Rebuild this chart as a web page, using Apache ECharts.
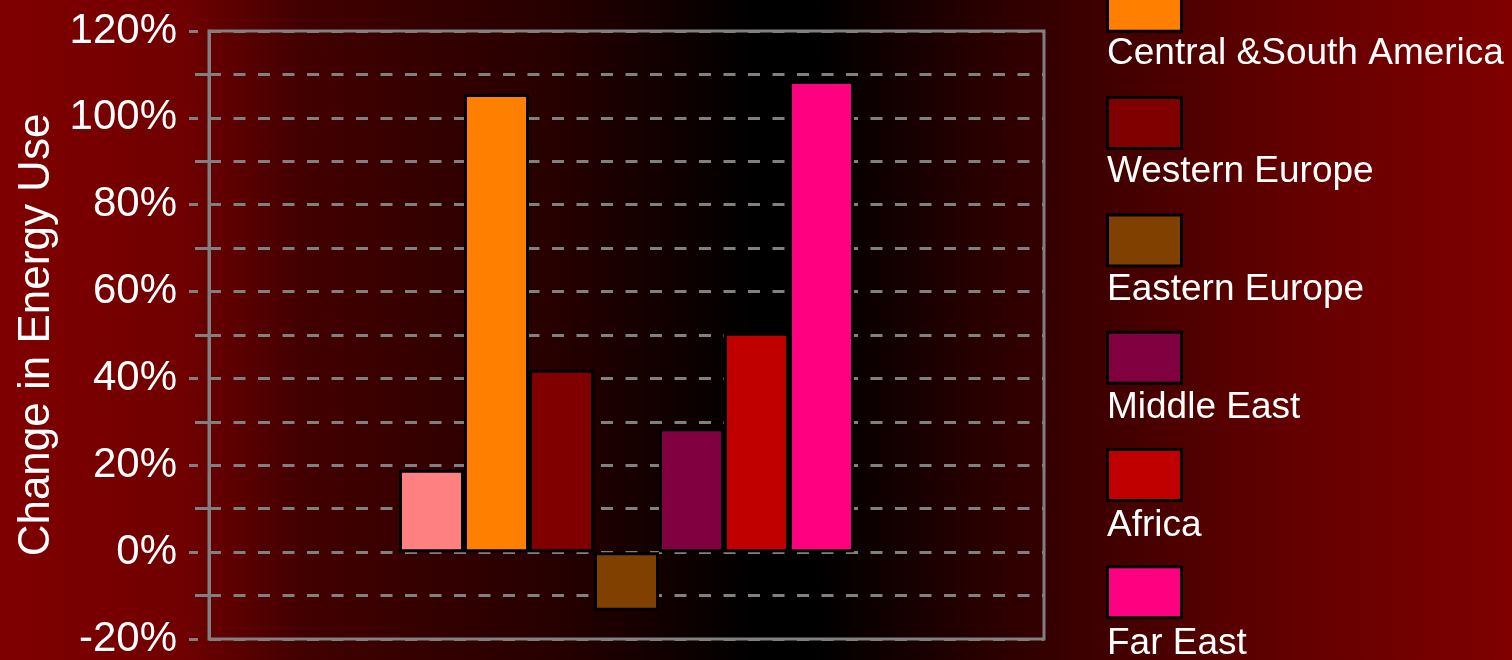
<!DOCTYPE html>
<html>
<head>
<meta charset="utf-8">
<script src="https://cdn.jsdelivr.net/npm/echarts@6/dist/echarts.min.js"></script>
<style>
  html, body { margin: 0; padding: 0; background: #000; }
  #main { width: 1512px; height: 660px; }
</style>
</head>
<body>
<div id="main"></div>
<script>
    // regions / energy use change (%)
    var regions = ['North America', 'Central &South America', 'Western Europe', 'Eastern Europe', 'Middle East', 'Africa', 'Far East']
    var changes = [19, 105.5, 42, -13.5, 28.5, 50.5, 108.5]
    var colors = ['#ff8080', '#ff8000', '#800000', '#804000', '#800040', '#c00000', '#ff0080']
    var categories = ['']

    var myChart = echarts.init(document.getElementById('main'))

    var gray = '#808080'
    var font = 'Liberation Sans, Arial, sans-serif'

    var series = regions.map(function (name, i) {
        return {
            name: name,
            type: 'bar',
            data: [changes[i]],
            barWidth: 65,
            barGap: '0%',
            itemStyle: {
                color: colors[i],
                borderColor: '#000',
                borderWidth: 3
            }
        }
    })

    var option = {
        backgroundColor: {
            type: 'linear', x: 0, y: 0, x2: 1, y2: 0,
            colorStops: [
                { offset: 0, color: '#800000' },
                { offset: 0.12, color: '#700000' },
                { offset: 0.2, color: '#420000' },
                { offset: 0.37, color: '#260000' },
                { offset: 0.5, color: '#000000' },
                { offset: 0.54, color: '#000000' },
                { offset: 0.66, color: '#2c0000' },
                { offset: 0.86, color: '#640000' },
                { offset: 1, color: '#800000' }
            ]
        },
        animation: false,
        textStyle: { fontFamily: font },
        grid: {
            left: 209,
            right: 468,
            top: 31,
            bottom: 19,
            show: true,
            borderColor: gray,
            borderWidth: 3
        },
        // swatches
        legend: [
            {
                orient: 'vertical',
                left: 1106,
                top: -138.5,
                height: 1000,
                padding: 0,
                icon: 'rect',
                itemWidth: 74,
                itemHeight: 51,
                itemGap: 63.3,
                selectedMode: false,
                formatter: function () { return '' },
                textStyle: { fontSize: 1 },
                itemStyle: { borderColor: '#000', borderWidth: 3 },
                data: regions
            },
            // labels under the swatches
            {
                orient: 'vertical',
                left: 1102,
                top: -84,
                height: 1000,
                padding: 0,
                icon: 'rect',
                itemWidth: 0,
                itemHeight: 0,
                itemGap: 78,
                selectedMode: false,
                itemStyle: { opacity: 0, borderWidth: 0 },
                textStyle: { color: '#fff', fontSize: 37, lineHeight: 40, fontFamily: font },
                data: regions
            }
        ],
        xAxis: {
            type: 'category',
            data: categories,
            axisLine: { show: false },
            axisTick: { show: false },
            axisLabel: { show: false },
            splitLine: { show: false }
        },
        yAxis: {
            type: 'value',
            min: -20,
            max: 120,
            interval: 20,
            name: 'Change in Energy Use',
            nameLocation: 'middle',
            nameRotate: 90,
            nameGap: 150,
            nameTextStyle: { color: '#fff', fontSize: 44, fontFamily: font },
            axisLine: { show: true, lineStyle: { color: gray, width: 3 } },
            axisTick: {
                show: true,
                length: 20,
                lineStyle: { color: gray, width: 3, type: [11, 11], dashOffset: 11 }
            },
            minorTick: {
                show: true,
                splitNumber: 2,
                length: 14,
                lineStyle: { color: gray, width: 3 }
            },
            axisLabel: {
                color: '#fff',
                fontSize: 42,
                margin: 32,
                fontFamily: font,
                formatter: '{value}%'
            },
            splitLine: {
                show: true,
                lineStyle: { color: gray, width: 3, type: [12, 12.5] }
            },
            minorSplitLine: {
                show: true,
                lineStyle: { color: gray, width: 3, type: [12, 12.5] }
            }
        },
        series: series
    }

    myChart.setOption(option)
</script>
</body>
</html>
